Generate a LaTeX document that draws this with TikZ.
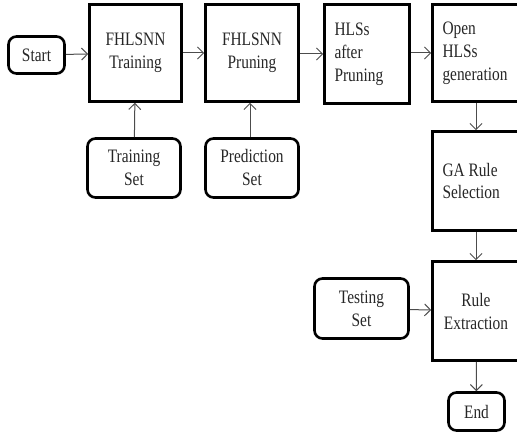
\documentclass[tikz,border=0pt]{standalone}
\usepackage{fontspec}
\setmainfont{Liberation Serif}[FakeStretch=0.81]
\usetikzlibrary{arrows.meta}
\newcommand{\boxfont}{\fontsize{19}{23}\selectfont}
\tikzset{
  procbox/.style={draw, line width=2.6pt, text=black!85, font=\boxfont, align=center},
  leftbox/.style={procbox, align=left, inner xsep=10pt, inner ysep=0pt,
    execute at begin node={\spaceskip=3.8pt\relax}},
  databox/.style={procbox, rounded corners=8pt},
  flow/.style={draw=black!70, line width=1pt, -{Straight Barb[length=6pt,width=12pt]}}
}
\begin{document}
\begin{tikzpicture}[x=1pt,y=-1pt]
  \clip (0,0) rectangle (517,436);
  % top row
  \node[databox, minimum width=56pt, minimum height=37pt] (start) at (36.5,55) {Start};
  \node[procbox, minimum width=92pt, minimum height=97pt] (train) at (135.5,53) {FHLSNN\\Training};
  \node[procbox, minimum width=93pt, minimum height=97pt] (prune) at (252,53) {FHLSNN\\Pruning};
  \node[leftbox, text width=65pt, minimum height=99pt] (hls) at (367,54) {HLSs\\after\\Pruning};
  \node[leftbox, text width=67pt, minimum height=97pt] (open) at (476,53) {Open\\HLSs\\generation};
  % data sets
  \node[databox, minimum width=93pt, minimum height=59pt] (trainset) at (134,168) {Training\\Set};
  \node[databox, minimum width=93pt, minimum height=59pt] (predset) at (252,168) {Prediction\\Set};
  \node[databox, minimum width=94pt, minimum height=60pt] (testset) at (361.5,308.5) {Testing\\Set};
  % right column
  \node[leftbox, text width=67pt, minimum height=99pt] (garule) at (476,181) {GA Rule\\Selection};
  \node[procbox, minimum width=87pt, minimum height=99pt] (extract) at (476,311) {Rule\\Extraction};
  \node[databox, minimum width=56pt, minimum height=38pt] (end) at (476.5,411.5) {End};
  % connectors
  \draw[flow] (start) -- (train);
  \draw[flow] (train) -- (prune);
  \draw[flow] (prune.east |- hls.west) -- (hls.west);
  \draw[flow] (hls.east |- open.west) -- (open.west);
  \draw[flow] (trainset) -- (train);
  \draw[flow] (predset.north -| 250,0) -- (prune.south -| 250,0);
  \draw[flow] (open) -- (garule);
  \draw[flow] (garule) -- (extract);
  \draw[flow] (testset) -- (extract);
  \draw[flow] (extract) -- (end);
\end{tikzpicture}
\end{document}
